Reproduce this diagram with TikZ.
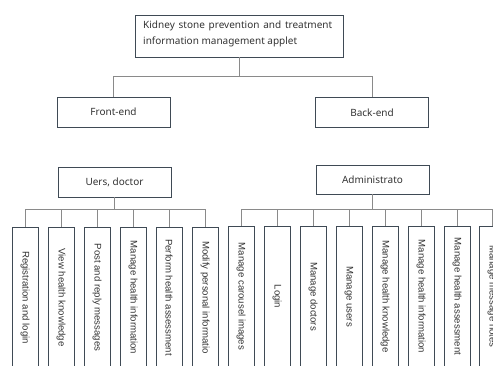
\documentclass[tikz,border=0pt]{standalone}
\usepackage{fontspec}
\setmainfont{Liberation Sans}
\newfontfamily\topfont{Noto Sans}
\definecolor{boxc}{HTML}{3F4A55}
\definecolor{linec}{HTML}{8A8A8A}
\definecolor{txtc}{HTML}{333333}
\begin{document}
\begin{tikzpicture}[x=1pt,y=-1pt,
  box/.style={draw=boxc,line width=0.9pt,text=txtc,inner sep=0pt},
  headbox/.style={box,minimum width=113pt,minimum height=30pt,font=\topfont\fontsize{10}{12}\selectfont},
  leaf/.style={box,rotate=-90,minimum width=141pt,minimum height=26pt,font=\fontsize{9.6}{11}\selectfont},
  conn/.style={draw=linec,line width=0.8pt}]
\useasboundingbox (0,0) rectangle (493,365);
\clip (0,0) rectangle (493,365);
% top
\node[box,minimum width=208pt,minimum height=42pt] (top) at (239,36) {};
\node[anchor=west,text=txtc,inner sep=0pt,font=\topfont\fontsize{10}{12}\selectfont] (t1) at (143,25.5) {\makebox[189pt][s]{Kidney stone prevention and treatment}};
\node[anchor=west,text=txtc,inner sep=0pt,font=\topfont\fontsize{10}{12}\selectfont] (t2) at (143,42) {information management applet};
\node[headbox] (front) at (113.5,112) {Front-end};
\node[headbox] (back) at (372,112.5) {Back-end};
\draw[conn] (top.south) -- (239,77);
\draw[conn] (front.north) -- ++(0,-20) -| (back.north);
% users
\node[headbox] (users) at (114.5,182) {Uers, doctor};
\coordinate (ub) at (114.5,209);
\draw[conn] (users.south) -- (ub);
\foreach \i/\x/\t in {1/25/Registration and login,2/61/View health knowledge,3/97/Post and reply messages,4/133/Manage health information,5/169/Perform health assessment,6/205/Modify personal informatio}{
  \node[leaf] (u\i) at (\x,297.5) {\t};
  \draw[conn] (u\i.west) -- (\x,209);
}
\draw[conn] (25,209) -- (205,209);
% admin
\node[headbox,minimum height=29pt] (admin) at (372.5,179.5) {Administrato};
\draw[conn] (admin.south) -- (372.5,209);
\foreach \i/\x/\t in {1/241/Manage carousel images,2/277/Login,3/313/Manage doctors,4/349/Manage users,5/385/Manage health knowledge,6/421/Manage health information,7/457/Manage health assessment,8/492/Manage message notes}{
  \node[leaf] (a\i) at (\x,296.5) {\t};
  \draw[conn] (a\i.west) -- (\x,209);
}
\draw[conn] (241,209) -- (500,209);
\end{tikzpicture}
\end{document}
